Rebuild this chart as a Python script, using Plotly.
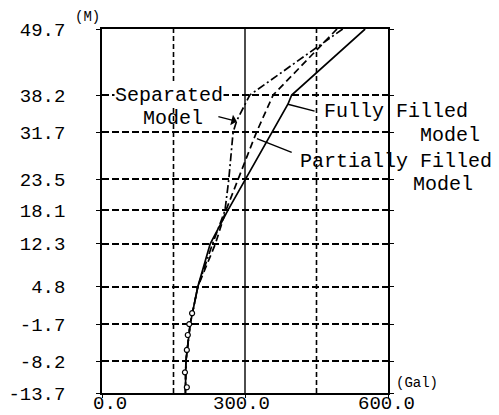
import plotly.graph_objects as go

# Depth levels (m) shown on the vertical axis
depth_ticks = [-13.7, -8.2, -1.7, 4.8, 12.3, 18.1, 23.5, 31.7, 38.2, 49.7]
depth_labels = ["-13.7", "-8.2", "-1.7", "4.8", "12.3", "18.1", "23.5", "31.7", "38.2", "49.7"]

# Acceleration axis (Gal)
acc_ticks = [0, 300, 600]
acc_labels = ["0.0", "300.0", "600.0"]
acc_label_shift = [8, -4, -2]
acc_grid_dashed = [150, 450]
acc_grid_solid = [300]

# Fully filled model
fully_depth = [49.7, 38.2, 36.6, 31.7, 23.5, 18.1, 12.3, 4.8, -1.7, -8.2, -13.7]
fully_acc = [552, 398, 390, 357, 302, 264, 227, 201, 185, 176, 175]

# Partially filled model
partial_depth = [49.7, 38.2, 31.7, 23.5, 18.1, 12.3, 4.8, -1.7, -8.2, -13.7]
partial_acc = [493, 359, 324, 286, 260, 238, 201, 185, 176, 175]

# Separated model
sep_depth = [49.7, 38.2, 33.8, 31.7, 23.5, 18.1, 12.3, 4.8, -1.7, -8.2, -13.7]
sep_acc = [505, 310, 283, 275, 266, 258, 232, 201, 185, 176, 175]

# Circle markers along the lower part of the profile
obs_depth = [0.2, -1.7, -3.6, -6.2, -10.1, -12.7]
obs_acc = [189, 183, 180, 178, 174, 178]

FONT = "Liberation Mono"

fig = go.Figure()

fig.add_trace(go.Scatter(x=fully_acc, y=fully_depth, mode="lines",
                         line=dict(color="black", width=1.7), name="Fully Filled Model"))
fig.add_trace(go.Scatter(x=partial_acc, y=partial_depth, mode="lines",
                         line=dict(color="black", width=1.7, dash="7px,4px"),
                         name="Partially Filled Model"))
fig.add_trace(go.Scatter(x=sep_acc, y=sep_depth, mode="lines",
                         line=dict(color="black", width=1.7, dash="8px,3px,2px,3px"),
                         name="Separated Model"))
fig.add_trace(go.Scatter(x=obs_acc, y=obs_depth, mode="markers",
                         marker=dict(symbol="circle", size=5, color="white",
                                     line=dict(color="black", width=1.2)),
                         name="obs"))

# Vertical reference lines at fixed accelerations
for v in acc_grid_dashed:
    fig.add_shape(type="line", xref="x", yref="paper", x0=v, x1=v, y0=0, y1=1,
                  line=dict(color="black", width=1.6, dash="5px,3px"), layer="below")
for v in acc_grid_solid:
    fig.add_shape(type="line", xref="x", yref="paper", x0=v, x1=v, y0=0, y1=1,
                  line=dict(color="black", width=1.4), layer="below")

# Leader lines from labels to curves
fig.add_shape(type="line", xref="x", yref="y", x0=390, y0=36.6, x1=446, y1=35.4,
              line=dict(color="black", width=1.4))
fig.add_shape(type="line", xref="x", yref="y", x0=325, y0=30.6, x1=398, y1=28.2,
              line=dict(color="black", width=1.4))

annotations = [
    dict(x=140, y=38.2, xref="x", text="Separated", xanchor="center",
         bgcolor="white", borderpad=0),
    dict(x=148, y=34.1, xref="x", text="Model", xanchor="center"),
    dict(x=461, y=35.4, xref="x", text="Fully Filled", xanchor="left"),
    dict(x=1.217, y=31.2, xref="paper", text="Model", xanchor="center"),
    dict(x=412, y=26.7, xref="x", text="Partially Filled", xanchor="left"),
    dict(x=1.191, y=22.6, xref="paper", text="Model", xanchor="center"),
]
for a in annotations:
    a.update(yref="y", yanchor="middle", showarrow=False,
             font=dict(family=FONT, size=20, color="black"))

# Acceleration tick labels set just under the frame
for v, lab, sh in zip(acc_ticks, acc_labels, acc_label_shift):
    annotations.append(dict(x=v, y=0, xref="x", yref="paper", text=lab, showarrow=False,
                            xanchor="center", yanchor="top", xshift=sh, yshift=1, borderpad=0,
                            font=dict(family=FONT, size=19, color="black")))
fig.update_layout(annotations=annotations)

# Arrow pointing at the separated-model curve
fig.add_annotation(x=283, y=33.6, ax=241, ay=34.5, xref="x", yref="y", axref="x", ayref="y",
                   text="", showarrow=True, arrowhead=1, arrowsize=1.4, arrowwidth=1.3,
                   arrowcolor="black")

# Units
fig.add_annotation(x=0, y=1, xref="paper", yref="paper", text="(M)", showarrow=False,
                   xanchor="right", yanchor="bottom", xshift=0, yshift=2,
                   font=dict(family=FONT, size=14, color="black"))
fig.add_annotation(x=1, y=0, xref="paper", yref="paper", text="(Gal)", showarrow=False,
                   xanchor="left", yanchor="bottom", xshift=6, yshift=0,
                   font=dict(family=FONT, size=14, color="black"))

fig.update_xaxes(range=[0, 600], tickvals=acc_ticks, showticklabels=False,
                 showgrid=False, zeroline=False, showline=True, mirror=True,
                 linecolor="black", linewidth=1.6, ticks="outside", ticklen=3,
                 tickcolor="black", automargin=False)
fig.update_yaxes(range=[-13.7, 49.7], tickvals=depth_ticks, ticktext=depth_labels,
                 showgrid=True, gridcolor="black", gridwidth=1.6, griddash="7px,3px",
                 zeroline=False, showline=True, mirror="ticks",
                 linecolor="black", linewidth=1.6, ticks="outside", ticklen=4,
                 tickcolor="black", ticklabelstandoff=27, automargin=False,
                 tickfont=dict(family=FONT, size=19, color="black"))

fig.update_layout(width=499, height=415, showlegend=False,
                  margin=dict(l=102, r=111, t=29, b=22, autoexpand=False),
                  plot_bgcolor="white", paper_bgcolor="white")

fig.write_html("out.html")
